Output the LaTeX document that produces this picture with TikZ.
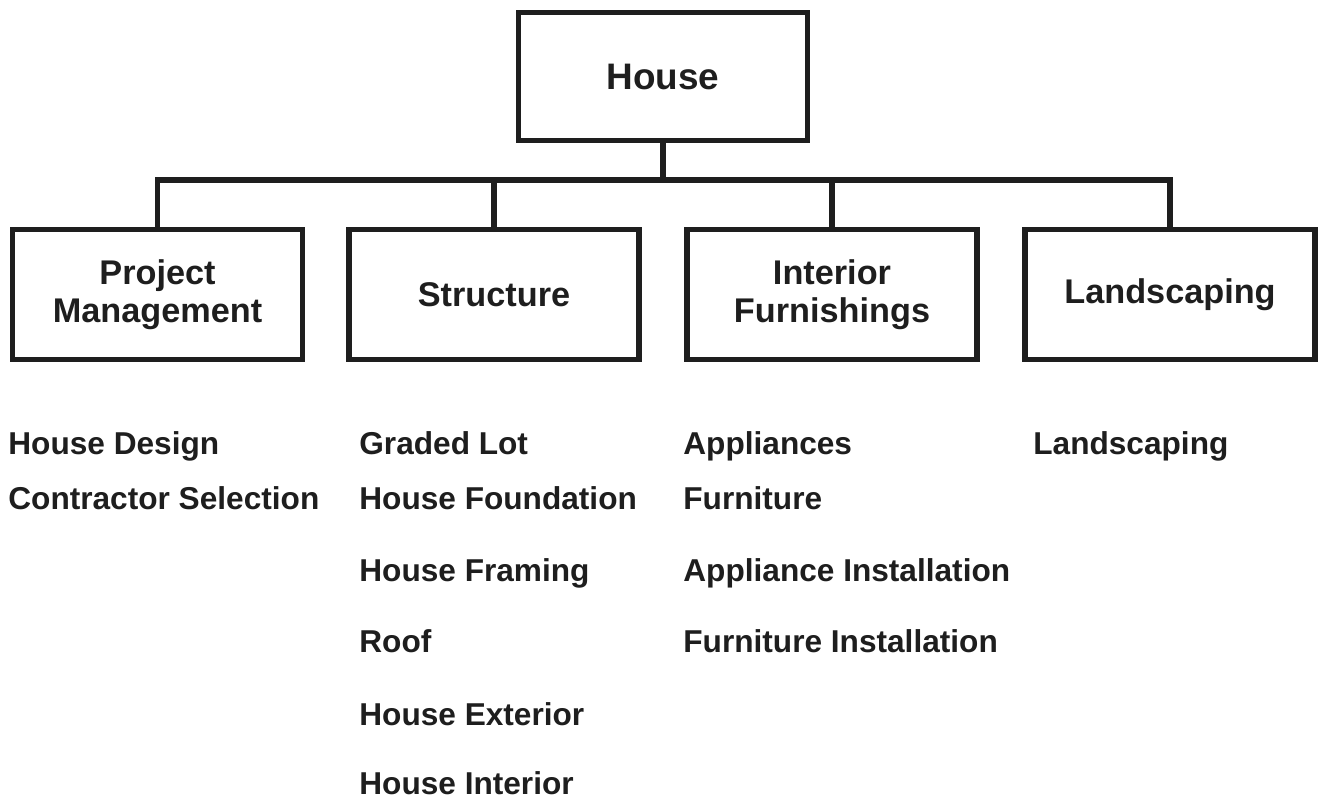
\documentclass[tikz,border=0pt]{standalone}
\usepackage{fontspec}
\setmainfont{Liberation Sans}
\usepackage{tikz}
\usetikzlibrary{positioning}
\definecolor{ink}{HTML}{1E1E1E}
\tikzset{
	every node/.style={
		align=center,
		text=ink,
		font=\bfseries\fontsize{19.5}{21.5}\selectfont,
	},
}
\tikzstyle{box} = [draw=ink, line width=3pt, minimum width=5.8cm, minimum height=2.6cm, inner sep=0pt]
\tikzstyle{wire} = [draw=ink, line width=3pt]
\tikzstyle{item} = [anchor=base west, inner sep=0pt, align=left, text depth=0pt, font=\bfseries\fontsize{18}{21.5}\selectfont]

\begin{document}
\begin{tikzpicture}[x=0.02cm, y=-0.02cm]
    \useasboundingbox (0,0) rectangle (1320,800);

    \node (ho) [box, minimum height=2.56cm, minimum width=5.78cm, font=\bfseries\fontsize{21}{24}\selectfont] at (663,76.5) {House};

    \node (pm) [box] at (157.5,294.5) {Project\\Management};
    \node (st) [box] at (494,294.5) {Structure};
    \node (if) [box] at (832,294.5) {Interior\\Furnishings};
    \node (la) [box] at (1170,294.5) {Landscaping};

    \coordinate (bus) at (663,180);
    \draw [wire] (ho.south) -- (bus);
    \draw [wire] (bus) -| (pm.north);
    \draw [wire] (bus) -| (st.north);
    \draw [wire] (bus) -| (if.north);
    \draw [wire] (bus) -| (la.north);

    \node (hd) [item] at (8,455) {House Design};
    \node (cs) [item] at (8,510) {Contractor Selection};

    \node (gl) [item] at (359,455) {Graded Lot};
    \node (hfo) [item] at (359,510) {House Foundation};
    \node (hfr) [item] at (359,582) {House Framing};
    \node (ro) [item] at (359,653) {Roof};
    \node (he) [item] at (359,725) {House Exterior};
    \node (hi) [item] at (359,795) {House Interior};

    \node (ap) [item] at (683,455) {Appliances};
    \node (fu) [item] at (683,510) {Furniture};
    \node (ai) [item] at (683,582) {Appliance Installation};
    \node (fi) [item] at (683,653) {Furniture Installation};

    \node (ls) [item] at (1033,455) {Landscaping};

\end{tikzpicture}
\end{document}
